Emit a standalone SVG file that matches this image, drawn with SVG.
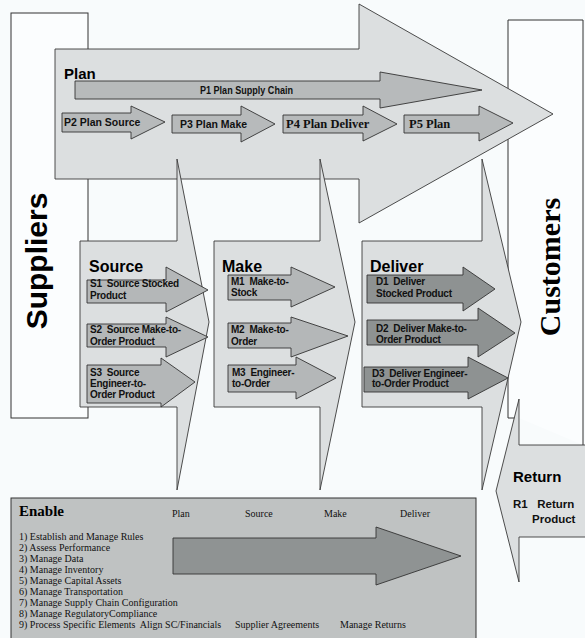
<svg xmlns="http://www.w3.org/2000/svg" width="585" height="638" viewBox="0 0 585 638">
<style>
.bg{fill:#f8fbfc}
.box{fill:#fbfdfe;stroke:#333;stroke-width:1}
.big{fill:#dcdfe0;stroke:#3a3a3a;stroke-width:0.9}
.pa{fill:#b7babb;stroke:#333;stroke-width:0.9}
.sa{fill:#b4b7b8;stroke:#333;stroke-width:0.9}
.da{fill:#8e9292;stroke:#333;stroke-width:0.9}
.en{fill:#bfc2c2;stroke:#333;stroke-width:1}
.ea{fill:#8f9393;stroke:#333;stroke-width:0.9}
.h{font-family:"Liberation Sans",Arial,sans-serif;font-weight:bold;font-size:16px;fill:#000}
.t{font-family:"Liberation Sans",Arial,sans-serif;font-weight:bold;font-size:10px;fill:#111;white-space:pre;letter-spacing:-0.25px}
.p{font-family:"Liberation Sans",Arial,sans-serif;font-weight:bold;font-size:10.5px;fill:#111;white-space:pre}
.ps{font-family:"Liberation Serif","Times New Roman",serif;font-weight:bold;font-size:12.5px;fill:#111;white-space:pre}
.s{font-family:"Liberation Serif","Times New Roman",serif;font-size:10px;fill:#111;white-space:pre}
</style>
<rect class="bg" x="0" y="0" width="585" height="638"/>

<g id="suppliers">
<rect class="box" x="11" y="13" width="77" height="405"/>
<text class="h" style="font-size:30px" transform="translate(47,261) rotate(-90)" text-anchor="middle">Suppliers</text>
</g>

<g id="customers">
<path class="box" d="M519,418 H508 V20 H583 V445"/>
<text style="font-family:'Liberation Serif','Times New Roman',serif;font-weight:bold;font-size:30px" fill="#000" transform="translate(560,267) rotate(-90)" text-anchor="middle">Customers</text>
</g>

<g id="plan">
<polygon class="big" points="55,49 359,49 359,4 553,114 359,223 359,179 55,179"/>
<text class="h" x="64" y="79" style="font-size:15px">Plan</text>
</g>

<g id="source">
<polygon class="big" points="80,241 177,241 177,159 209,322 177,490 177,407 80,407"/>
<text class="h" x="89" y="272">Source</text>
</g>

<g id="make">
<polygon class="big" points="214,241 320,241 320,159 355,322 320,490 320,407 214,407"/>
<text class="h" x="222" y="272">Make</text>
</g>

<g id="deliver">
<polygon class="big" points="362,241 482,241 482,159 521,322 482,490 482,407 362,407"/>
<text class="h" x="370" y="272">Deliver</text>
</g>

<g id="p1">
<polygon class="pa" points="75,81 380,81 380,72 482,90 380,108 380,99 75,99"/>
<text class="p" x="200" y="94" style="font-size:10.5px" textLength="93" lengthAdjust="spacingAndGlyphs">P1 Plan Supply Chain</text>
</g>
<g id="p2">
<polygon class="pa" points="62,113 131,113 131,106 165,122 131,139 131,132 62,132"/>
<text class="p" x="64" y="126">P2 Plan Source</text>
</g>
<g id="p3">
<polygon class="pa" points="172,115 241,115 241,106 275,124 241,142 241,133 172,133"/>
<text class="p" x="180" y="128">P3 Plan Make</text>
</g>
<g id="p4">
<polygon class="pa" points="283,115 363,115 363,106 397,124 363,141 363,133 283,133"/>
<text class="ps" x="286" y="128">P4 Plan Deliver</text>
</g>
<g id="p5">
<polygon class="pa" points="404,115 479,115 479,106 513,123 479,141 479,133 404,133"/>
<text class="ps" x="409" y="128">P5 Plan</text>
</g>

<g id="s1">
<polygon class="sa" points="87,280 166,280 166,267 208,290 166,312 166,303 87,303"/>
<text class="t" x="90" y="287">S1  Source Stocked</text>
<text class="t" x="90" y="299">Product</text>
</g>
<g id="s2">
<polygon class="sa" points="87,324 166,324 166,317 208,337 166,357 166,347 87,347"/>
<text class="t" x="90" y="333">S2  Source Make-to-</text>
<text class="t" x="90" y="345">Order Product</text>
</g>
<g id="s3">
<polygon class="sa" points="87,365 161,365 161,358 195,382 161,407 161,403 87,403"/>
<text class="t" x="90" y="376">S3  Source</text>
<text class="t" x="90" y="387">Engineer-to-</text>
<text class="t" x="90" y="398">Order Product</text>
</g>

<g id="m1">
<polygon class="sa" points="228,275 291,275 291,267 335,287 291,307 291,300 228,300"/>
<text class="t" x="231" y="285">M1  Make-to-</text>
<text class="t" x="231" y="296">Stock</text>
</g>
<g id="m2">
<polygon class="sa" points="228,323 291,323 291,317 348,336 291,357 291,348 228,348"/>
<text class="t" x="231" y="333">M2  Make-to-</text>
<text class="t" x="231" y="345">Order</text>
</g>
<g id="m3">
<polygon class="sa" points="228,365 296,365 296,357 336,378 296,399 296,392 228,392"/>
<text class="t" x="232" y="376">M3  Engineer-</text>
<text class="t" x="232" y="387">to-Order</text>
</g>

<g id="d1">
<polygon class="da" points="367,275 463,275 463,267 495,289 463,311 463,303 367,303"/>
<text class="t" x="376" y="285">D1  Deliver</text>
<text class="t" x="376" y="297">Stocked Product</text>
</g>
<g id="d2">
<polygon class="da" points="367,320 478,320 478,308 515,333 478,357 478,345 367,345"/>
<text class="t" x="376" y="332">D2  Deliver Make-to-</text>
<text class="t" x="376" y="343">Order Product</text>
</g>
<g id="d3">
<polygon class="da" points="364,367 468,367 468,357 508,378 468,399 468,392 364,392"/>
<text class="t" x="372" y="377">D3  Deliver Engineer-</text>
<text class="t" x="372" y="387">to-Order Product</text>
</g>

<g id="return">
<polygon class="big" points="519,399 519,445 590,445 590,537 519,537 519,582 496,491"/>
<text class="h" x="513" y="482" style="font-size:15px">Return</text>
<text class="t" x="513" y="508" style="font-size:11.5px;letter-spacing:0">R1   Return</text>
<text class="t" x="532" y="523" style="font-size:11.5px;letter-spacing:0">Product</text>
</g>

<g id="enable">
<rect class="en" x="11" y="498" width="465" height="145"/>
<polygon class="ea" points="173,538 376,538 376,527 461,556 376,585 376,574 173,574"/>
<text x="19" y="516" style="font-family:'Liberation Serif','Times New Roman',serif;font-weight:bold;font-size:15px" fill="#000">Enable</text>
<text class="s" x="172" y="517">Plan</text>
<text class="s" x="245" y="517">Source</text>
<text class="s" x="324" y="517">Make</text>
<text class="s" x="400" y="517">Deliver</text>
<text class="s" x="19" y="540">1) Establish and Manage Rules</text>
<text class="s" x="19" y="551">2) Assess Performance</text>
<text class="s" x="19" y="562">3) Manage Data</text>
<text class="s" x="19" y="573">4) Manage Inventory</text>
<text class="s" x="19" y="584">5) Manage Capital Assets</text>
<text class="s" x="19" y="595">6) Manage Transportation</text>
<text class="s" x="19" y="606">7) Manage Supply Chain Configuration</text>
<text class="s" x="19" y="617">8) Manage RegulatoryCompliance</text>
<text class="s" x="19" y="628">9) Process Specific Elements  Align SC/Financials</text>
<text class="s" x="235" y="628">Supplier Agreements</text>
<text class="s" x="340" y="628">Manage Returns</text>
</g>
<g id="connectors"/>
</svg>
